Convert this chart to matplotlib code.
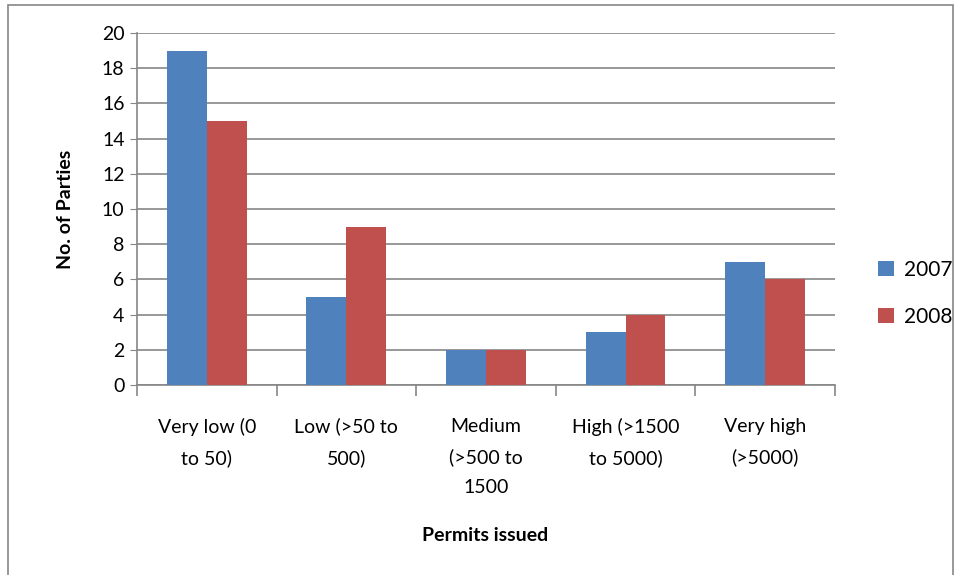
import matplotlib
matplotlib.use("Agg")
import matplotlib.pyplot as plt
from matplotlib.patches import Rectangle
import numpy as np

plt.rcParams['font.family'] = ['Lato', 'DejaVu Sans']

categories = ["Very low (0\nto 50)", "Low (>50 to\n500)", "Medium\n(>500 to\n1500",
              "High (>1500\nto 5000)", "Very high\n(>5000)"]
parties_2007 = [19, 5, 2, 3, 7]
parties_2008 = [15, 9, 2, 4, 6]
years = ["2007", "2008"]

blue = "#4F81BD"
red = "#C0504D"
grey = "#868686"
fs = 14

fig = plt.figure(figsize=(9.6, 5.75), dpi=100)
ax = fig.add_axes([0.1427, 0.3304, 0.727, 0.6122])

x = np.arange(len(categories))
w = 1 / 3.5  # gap width 150%
ax.bar(x - w / 2, parties_2007, w, color=blue, label=years[0], zorder=3)
ax.bar(x + w / 2, parties_2008, w, color=red, label=years[1], zorder=3)

ax.set_xlim(-0.5, len(categories) - 0.5)
ax.set_ylim(0, 20)
ax.set_yticks(range(0, 21, 2))
ax.tick_params(axis='y', labelsize=fs, length=5, color=grey, pad=4)
ax.yaxis.grid(True, color=grey, linewidth=1.2, zorder=0)

# category labels sit between boundary ticks
ax.set_xticks(np.arange(-0.5, len(categories), 1))
ax.set_xticklabels([])
ax.tick_params(axis='x', length=8, color=grey, width=1.2)
for i, c in enumerate(categories):
    ax.text(i, -1.85, c, ha='center', va='top', fontsize=fs, linespacing=1.9)

for s in ['top', 'right']:
    ax.spines[s].set_visible(False)
for s in ['left', 'bottom']:
    ax.spines[s].set_color(grey)
    ax.spines[s].set_linewidth(1.2)

ax.set_ylabel("No. of Parties", fontsize=fs, fontweight='bold', labelpad=20)
fig.text(0.505, 0.068, "Permits issued", ha='center', va='center',
         fontsize=fs, fontweight='bold')

ax.legend(loc='center left', bbox_to_anchor=(1.035, 0.26), frameon=False,
          fontsize=fs + 1, handlelength=0.75, handleheight=0.75, labelspacing=1.3,
          handletextpad=0.5)

fig.patches.append(Rectangle((8 / 960, -0.01), 945 / 960, 1 - 5 / 575 + 0.01,
                             transform=fig.transFigure, fill=False,
                             edgecolor=grey, linewidth=1.2))

fig.savefig("out.png", dpi=100)
